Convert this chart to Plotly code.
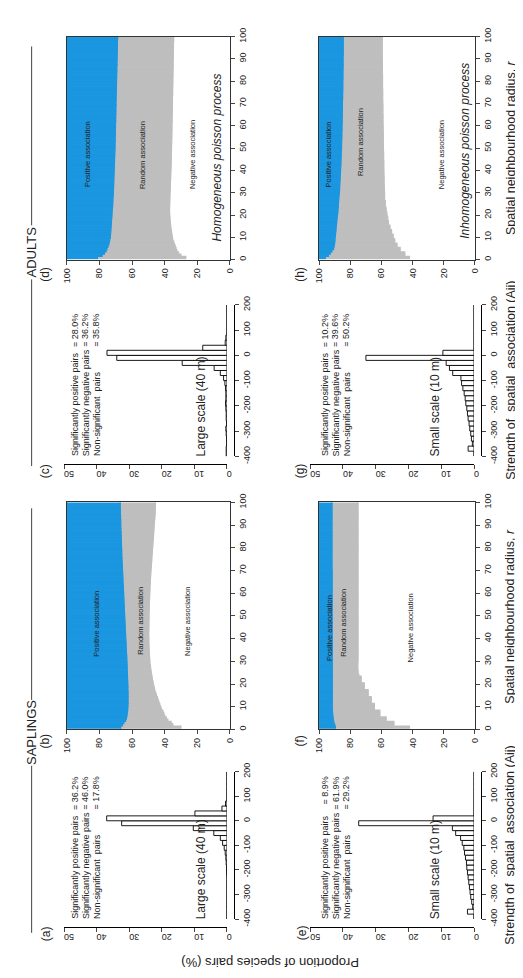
import plotly.graph_objects as go

W, H = 523, 978
SANS = "Liberation Sans, Arial, sans-serif"
BLUE = "#1B96E0"
GRAY = "#BEBEBE"

# ---------------- data ----------------
aij_bins = list(range(-390, 200, 20))  # bin centres, width 20

hist_a = [0, 0, 0, 0, 0, 0, 0, 0, 0, 0.1, 0.1, 0.2, 0.3, 0.5, 0.8, 1.3, 2.0, 4.0, 10.3, 32.3,
          36.9, 9.8, 1.5, 0.4, 0, 0, 0, 0, 0, 0]
hist_c = [0.2, 0.2, 0.1, 0.1, 0.2, 0.3, 0.1, 0.2, 0.2, 0.3, 0.4, 0.3, 0.3, 0.4, 0.6, 1.0, 2.0, 3.9, 13.7, 33.8,
          36.8, 7.4, 0.5, 0.3, 0, 0, 0, 0, 0, 0]
hist_e = [0, 2.0, 0.4, 0.7, 1.0, 1.2, 1.4, 1.6, 1.8, 2.0, 2.2, 2.3, 2.6, 2.9, 3.1, 3.6, 4.1, 5.6, 6.6, 35.2,
          12.5, 0, 0, 0, 0, 0, 0, 0, 0, 0]
hist_g = [0, 1.8, 0.5, 0.8, 1.0, 1.3, 1.5, 1.8, 2.0, 2.2, 2.5, 2.7, 3.0, 3.4, 3.8, 4.0, 6.5, 7.5, 8.5, 33.0,
          9.5, 0, 0, 0, 0, 0, 0, 0, 0, 0]

radius = list(range(1, 101))

b_neg = [30, 35, 36, 38, 39, 40, 40.5, 41, 42, 42.5,
         43, 43.5, 44, 44.5, 45, 45.5, 46, 46.3, 46.6, 47,
         47.2, 47.5, 47.7, 48, 48.2, 48.4, 48.6, 48.8, 49, 49.1,
         49.2, 49.3, 49.4, 49.5, 49.5, 49.6, 49.6, 49.7, 49.7, 49.7,
         49.8, 49.8, 49.8, 49.7, 49.7, 49.7, 49.7, 49.6, 49.6, 49.6,
         49.6, 49.5, 49.5, 49.5, 49.4, 49.4, 49.3, 49.3, 49.2, 49.2,
         49.1, 49.0, 49.0, 48.9, 48.8, 48.8, 48.7, 48.6, 48.5, 48.4,
         48.3, 48.2, 48.1, 48.0, 47.9, 47.8, 47.7, 47.6, 47.5, 47.4,
         47.3, 47.2, 47.1, 47.0, 46.9, 46.8, 46.7, 46.6, 46.5, 46.4,
         46.3, 46.2, 46.1, 46.0, 45.9, 45.8, 45.8, 45.7, 45.7, 45.6]
b_pos = [33, 34, 35, 36, 36.5, 36.8, 37, 37.2, 37.3, 37.4,
         37.5, 37.5, 37.5, 37.5, 37.5, 37.5, 37.4, 37.4, 37.4, 37.3,
         37.3, 37.2, 37.2, 37.1, 37.1, 37.0, 37.0, 36.9, 36.9, 36.8,
         36.7, 36.7, 36.6, 36.5, 36.5, 36.4, 36.3, 36.3, 36.2, 36.1,
         36.0, 36.0, 35.9, 35.8, 35.8, 35.7, 35.6, 35.6, 35.5, 35.4,
         35.4, 35.3, 35.2, 35.2, 35.1, 35.0, 35.0, 34.9, 34.8, 34.8,
         34.7, 34.6, 34.6, 34.5, 34.4, 34.4, 34.3, 34.2, 34.2, 34.1,
         34.0, 34.0, 33.9, 33.8, 33.8, 33.7, 33.7, 33.6, 33.6, 33.5,
         33.5, 33.4, 33.4, 33.3, 33.3, 33.2, 33.2, 33.1, 33.1, 33.0,
         33.0, 33.0, 32.9, 32.9, 32.8, 32.8, 32.8, 32.7, 32.7, 32.7]

d_neg = [27, 30, 31.5, 32.5, 33, 33.5, 34, 34.5, 35, 35.3,
         35.5, 35.7, 35.9, 36.1, 36.3, 36.5, 36.6, 36.7, 36.8, 36.9,
         37.0, 37.0, 37.0, 37.0, 36.9, 36.9, 36.8, 36.8, 36.7, 36.7,
         36.6, 36.6, 36.5, 36.5, 36.4, 36.4, 36.3, 36.3, 36.2, 36.2,
         36.1, 36.1, 36.0, 36.0, 36.0, 35.9, 35.9, 35.9, 35.8, 35.8,
         35.8, 35.7, 35.7, 35.7, 35.6, 35.6, 35.6, 35.5, 35.5, 35.5,
         35.5, 35.4, 35.4, 35.4, 35.4, 35.3, 35.3, 35.3, 35.3, 35.2,
         35.2, 35.2, 35.2, 35.1, 35.1, 35.1, 35.1, 35.0, 35.0, 35.0,
         35.0, 34.9, 34.9, 34.9, 34.9, 34.8, 34.8, 34.8, 34.8, 34.7,
         34.7, 34.7, 34.7, 34.6, 34.6, 34.6, 34.6, 34.5, 34.5, 34.5]
d_pos = [18.7, 21.6, 23.0, 24.0, 24.6, 25.2, 25.7, 26.0, 26.3, 26.6,
         26.7, 26.8, 26.9, 27.0, 27.1, 27.2, 27.3, 27.4, 27.5, 27.6,
         27.7, 27.8, 27.9, 28.0, 28.1, 28.1, 28.2, 28.3, 28.4, 28.5,
         28.5, 28.6, 28.6, 28.7, 28.7, 28.8, 28.8, 28.9, 28.9, 29.0,
         29.0, 29.1, 29.1, 29.2, 29.2, 29.3, 29.3, 29.4, 29.4, 29.5,
         29.5, 29.5, 29.6, 29.6, 29.6, 29.7, 29.7, 29.7, 29.8, 29.8,
         29.8, 29.9, 29.9, 29.9, 30.0, 30.0, 30.0, 30.0, 30.1, 30.1,
         30.1, 30.2, 30.2, 30.2, 30.3, 30.3, 30.3, 30.4, 30.4, 30.4,
         30.5, 30.5, 30.5, 30.6, 30.6, 30.6, 30.7, 30.7, 30.7, 30.8,
         30.8, 30.8, 30.9, 30.9, 30.9, 31.0, 31.0, 31.0, 31.1, 31.1]

f_neg = [42, 52, 52, 57, 57, 61, 61, 61, 64.5, 64.5,
         64.5, 66.5, 66.5, 66.5, 68.5, 68.5, 68.5, 71, 71, 71,
         73, 73, 73, 74.5, 75, 75, 75.2, 75.2, 75.1, 75.1,
         75.0, 75.0, 75.0, 75.0, 75.0, 75.0, 75.0, 75.0, 75.0, 75.0,
         75.0, 75.0, 75.0, 75.0, 75.0, 75.0, 75.0, 75.0, 75.0, 75.0,
         75.0, 75.0, 75.0, 75.0, 75.0, 75.0, 75.0, 75.0, 75.0, 75.0,
         75.0, 75.0, 75.0, 75.0, 75.0, 75.0, 75.0, 75.0, 75.0, 75.0,
         75.0, 75.0, 75.0, 75.0, 75.0, 75.0, 75.0, 75.0, 75.0, 75.0,
         75.0, 75.0, 75.0, 75.0, 75.0, 75.0, 75.0, 75.0, 75.0, 75.0,
         75.0, 75.0, 75.0, 75.0, 75.0, 75.0, 75.0, 75.0, 75.0, 75.0]
f_pos = [10.5, 10.0, 9.5, 9.2, 9.0, 8.8, 8.7, 8.6, 8.6, 8.5,
         8.5, 8.5, 8.5, 8.5, 8.5, 8.5, 8.5, 8.5, 8.5, 8.5,
         8.5, 8.5, 8.5, 8.5, 8.5, 8.5, 8.5, 8.5, 8.5, 8.5,
         8.5, 8.5, 8.5, 8.5, 8.5, 8.5, 8.5, 8.5, 8.5, 8.5,
         8.4, 8.4, 8.4, 8.4, 8.4, 8.4, 8.4, 8.4, 8.4, 8.4,
         8.4, 8.4, 8.4, 8.4, 8.4, 8.4, 8.4, 8.4, 8.4, 8.4,
         8.4, 8.4, 8.4, 8.4, 8.4, 8.4, 8.4, 8.4, 8.4, 8.4,
         8.3, 8.3, 8.3, 8.3, 8.3, 8.3, 8.3, 8.3, 8.3, 8.3,
         8.3, 8.3, 8.3, 8.3, 8.3, 8.3, 8.3, 8.3, 8.3, 8.3,
         8.3, 8.3, 8.3, 8.3, 8.3, 8.3, 8.3, 8.3, 8.3, 8.3]

h_neg = [42, 45, 45, 48, 48, 50, 50, 51.5, 51.5, 52.5,
         52.5, 53.5, 53.5, 54.5, 54.5, 55.5, 55.5, 56, 56, 56.5,
         56.5, 57, 57, 57.5, 57.5, 57.5, 58, 58, 58, 58,
         58.1, 58.1, 58.2, 58.2, 58.3, 58.3, 58.3, 58.4, 58.4, 58.4,
         58.5, 58.5, 58.5, 58.5, 58.6, 58.6, 58.6, 58.6, 58.7, 58.7,
         58.7, 58.7, 58.8, 58.8, 58.8, 58.8, 58.9, 58.9, 58.9, 58.9,
         59.0, 59.0, 59.0, 59.0, 59.0, 59.1, 59.1, 59.1, 59.1, 59.1,
         59.2, 59.2, 59.2, 59.2, 59.2, 59.2, 59.3, 59.3, 59.3, 59.3,
         59.3, 59.3, 59.3, 59.4, 59.4, 59.4, 59.4, 59.4, 59.4, 59.4,
         59.5, 59.5, 59.5, 59.5, 59.5, 59.5, 59.5, 59.5, 59.5, 59.5]
h_pos = [4.0, 6.0, 7.2, 8.3, 9.3, 9.6, 9.9, 10.1, 10.2, 10.3,
         10.5, 10.6, 10.8, 10.9, 11.0, 11.2, 11.3, 11.5, 11.6, 11.8,
         12.0, 12.1, 12.2, 12.3, 12.4, 12.5, 12.6, 12.7, 12.8, 13.0,
         13.1, 13.2, 13.2, 13.3, 13.4, 13.5, 13.5, 13.6, 13.7, 13.8,
         13.8, 13.9, 14.0, 14.0, 14.1, 14.1, 14.2, 14.2, 14.3, 14.4,
         14.4, 14.4, 14.5, 14.5, 14.6, 14.6, 14.6, 14.7, 14.7, 14.7,
         14.8, 14.8, 14.8, 14.9, 14.9, 14.9, 15.0, 15.0, 15.0, 15.0,
         15.0, 15.1, 15.1, 15.1, 15.1, 15.2, 15.2, 15.2, 15.2, 15.2,
         15.3, 15.3, 15.3, 15.3, 15.3, 15.4, 15.4, 15.4, 15.4, 15.4,
         15.4, 15.5, 15.5, 15.5, 15.5, 15.5, 15.5, 15.5, 15.5, 15.5]

stats = {
    "a": ["36.2%", "46.0%", "17.8%"],
    "c": ["28.0%", "36.2%", "35.8%"],
    "e": ["8.9%", "61.9%", "29.2%"],
    "g": ["10.2%", "39.6%", "50.2%"],
}
stat_labels = ["Significantly positive pairs", "Significantly negative pairs", "Non-significant  pairs"]
prop_ticks_hist = [0, 10, 20, 30, 40, 50]
aij_ticks = [-400, -300, -200, -100, 0, 100, 200]
aij_ticktext = ["-400", "-300", "-200", "-100", "0", "100", "200"]
prop_ticks_stack = [0, 20, 40, 60, 80, 100]
radius_ticks = list(range(0, 101, 10))

# ---------------- helpers ----------------
def fx(x):
    return x / W


def fy(y):
    return 1 - y / H


fig = go.Figure()
layout = {}
annotations = []
shapes = []
TICKFONT = dict(size=9, family=SANS, color="#222")


def axis_names(i):
    return ("xaxis" if i == 1 else f"xaxis{i}", "yaxis" if i == 1 else f"yaxis{i}",
            "x" if i == 1 else f"x{i}", "y" if i == 1 else f"y{i}")


def add_stack(i, x0, x1, ytop, ybot, neg, pos):
    xa, ya, xr, yr = axis_names(i)
    rnd = [100 - n - p for n, p in zip(neg, pos)]
    base_pos = [100 - p for p in pos]
    fig.add_trace(go.Bar(y=radius, x=rnd, base=neg, orientation="h", width=1.0,
                         marker=dict(color=GRAY, line=dict(width=1.2, color=GRAY)),
                         xaxis=xr, yaxis=yr, showlegend=False, hoverinfo="skip"))
    fig.add_trace(go.Bar(y=radius, x=pos, base=base_pos, orientation="h", width=1.0,
                         marker=dict(color=BLUE, line=dict(width=1.2, color=BLUE)),
                         xaxis=xr, yaxis=yr, showlegend=False, hoverinfo="skip"))
    layout[xa] = dict(domain=[fx(x0), fx(x1)], range=[100, 0], anchor=yr,
                      tickvals=prop_ticks_stack, ticks="outside", ticklen=4, tickangle=-90,
                      showline=True, mirror=True, linecolor="#333", linewidth=1,
                      showgrid=False, zeroline=False, tickfont=TICKFONT)
    layout[ya] = dict(domain=[fy(ybot), fy(ytop)], range=[0, 100], anchor=xr, side="right",
                      tickvals=radius_ticks, ticks="outside", ticklen=4, tickangle=-90,
                      showline=True, mirror=True, linecolor="#333", linewidth=1,
                      showgrid=False, zeroline=False, tickfont=TICKFONT)


def add_hist(i, xl, xr0, y200, y400, line_x, line_y, vals):
    xa, ya, xr, yr = axis_names(i)
    fig.add_trace(go.Bar(y=aij_bins, x=vals, orientation="h", width=20,
                         marker=dict(color="white", line=dict(width=0.9, color="black")),
                         xaxis=xr, yaxis=yr, showlegend=False, hoverinfo="skip"))
    layout[xa] = dict(domain=[fx(xl), fx(xr0)], range=[50, 0], anchor="free", position=fy(line_y),
                      tickvals=prop_ticks_hist, ticks="outside", ticklen=4, tickangle=180,
                      showline=True, linecolor="black", linewidth=1,
                      showgrid=False, zeroline=False, tickfont=TICKFONT)
    layout[ya] = dict(domain=[fy(y400), fy(y200)], range=[-400, 200], anchor="free", position=fx(line_x),
                      side="right", tickvals=aij_ticks, ticktext=aij_ticktext, ticks="outside", ticklen=4,
                      tickangle=-90, showline=True, linecolor="black", linewidth=1,
                      showgrid=False, zeroline=False, tickfont=TICKFONT)


def text(x, y, s, size, angle=-90, xanchor="center", yanchor="middle", italic=False, color="#222"):
    if italic:
        s = f"<i>{s}</i>"
    annotations.append(dict(x=fx(x), y=fy(y), xref="paper", yref="paper", text=s, showarrow=False,
                            textangle=angle, xanchor=xanchor, yanchor=yanchor,
                            font=dict(size=size, family=SANS, color=color)))


# ---------------- panels ----------------
add_hist(1, 52, 218, 768, 918, 225, 926, hist_a)
add_stack(2, 55, 221, 494, 725, b_neg, b_pos)
add_hist(3, 52, 218, 293, 447, 225, 455, hist_c)
add_stack(4, 55, 221, 20, 247, d_neg, d_pos)
add_hist(5, 303, 470, 768, 918, 477, 926, hist_e)
add_stack(6, 312, 471, 494, 725, f_neg, f_pos)
add_hist(7, 303, 470, 293, 447, 477, 455, hist_g)
add_stack(8, 312, 471, 20, 247, h_neg, h_pos)

# stats texts
for key, xs, ybot in [("a", (63, 74, 85), 918), ("c", (63, 74, 85), 447),
                      ("e", (318, 329, 340), 918), ("g", (318, 329, 340), 447)]:
    for k in range(3):
        text(xs[k], ybot + 2, stat_labels[k], 9, yanchor="bottom")
        text(xs[k], ybot - 147, "= " + stats[key][k], 9, yanchor="top")

text(192, 920, "Large scale (40 m)", 12, yanchor="bottom")
text(192, 449, "Large scale (40 m)", 12, yanchor="bottom")
text(430, 920, "Small scale (10 m)", 12, yanchor="bottom")
text(430, 449, "Small scale (10 m)", 12, yanchor="bottom")

# stack region labels
for (px_, py_, s) in [(76, 140, "Positive association"), (132, 140, "Random association"), (183, 140, "Negative association"),
                      (85, 617, "Positive association"), (130, 615, "Random association"), (178, 615, "Negative association"),
                      (322, 622, "Positive association"), (337, 617, "Random association"), (405, 622, "Negative association"),
                      (322, 140, "Positive association"), (355, 127, "Random association"), (437, 140, "Negative association")]:
    text(px_, py_, s, 7.5)

text(207, 143, "Homogeneous poisson process", 12, italic=True)
text(460, 136, "Inhomogeneous poisson process", 12, italic=True)

# panel letters
for (px_, py_, s) in [(33, 933, "(a)"), (33, 737, "(b)"), (33, 462, "(c)"), (33, 262, "(d)"),
                      (294, 932, "(e)"), (293, 737, "(f)"), (293, 462, "(g)"), (293, 262, "(h)")]:
    text(px_, py_, s, 12)

# axis titles
text(507, 843, "Strength of  spatial  association (Aij)", 12.5)
text(507, 370, "Strength of  spatial  association (Aij)", 12.5)
text(507, 610, "Spatial neighbourhood radius, <i>r</i>", 12.5)
text(507, 133, "Spatial neighbourhood radius, <i>r</i>", 12.5)
text(262, 962, "Proportion of species pairs (%)", 13, angle=180)

# group headers
text(19, 728, "SAPLINGS", 13)
text(19, 239, "ADULTS", 13)
for (a, b) in [(500, 695), (762, 932), (30, 212), (267, 457)]:
    shapes.append(dict(type="line", xref="paper", yref="paper", x0=fx(19), x1=fx(19), y0=fy(a), y1=fy(b),
                       line=dict(color="#444", width=1)))

fig.update_layout(**layout)
fig.update_layout(width=W, height=H, margin=dict(l=0, r=0, t=0, b=0), barmode="overlay",
                  paper_bgcolor="white", plot_bgcolor="white", showlegend=False,
                  annotations=annotations, shapes=shapes, font=dict(family=SANS, color="#222"))
fig.write_html("out.html")
